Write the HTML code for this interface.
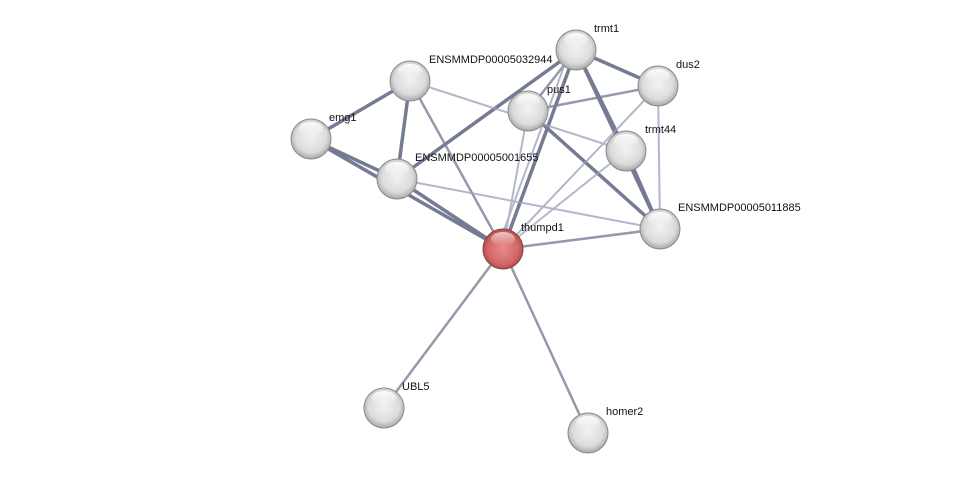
<!DOCTYPE html>
<html><head><meta charset="utf-8"><style>
html,body{margin:0;padding:0;background:#fff;}
svg{display:block;}
text{font-family:"Liberation Sans",sans-serif;font-size:11px;fill:#111;}
</style></head><body>
<svg width="975" height="478" viewBox="0 0 975 478" xmlns="http://www.w3.org/2000/svg">
<defs>
<radialGradient id="g" cx="50%" cy="45%" r="55%">
<stop offset="0" stop-color="#f2f2f2"/><stop offset="0.7" stop-color="#dcdcdc"/><stop offset="1" stop-color="#a8a8a8"/>
</radialGradient>
<radialGradient id="r" cx="50%" cy="50%" r="55%">
<stop offset="0" stop-color="#e88a8a"/><stop offset="0.7" stop-color="#d26666"/><stop offset="1" stop-color="#a84444"/>
</radialGradient>
<linearGradient id="hl" x1="0" y1="0" x2="0" y2="1">
<stop offset="0" stop-color="#fff" stop-opacity="0.9"/><stop offset="1" stop-color="#fff" stop-opacity="0"/>
</linearGradient>
</defs>
<g stroke-linecap="round">
<!-- thick dark -->
<g stroke="#5c6480" stroke-width="3.5" opacity="0.85">
<line x1="311" y1="139" x2="410" y2="81"/>
<line x1="311" y1="139" x2="397" y2="179"/>
<line x1="311" y1="139" x2="503" y2="249"/>
<line x1="410" y1="81" x2="397" y2="179"/>
<line x1="397" y1="179" x2="503" y2="249"/>
<line x1="397" y1="179" x2="576" y2="50"/>
<line x1="576" y1="50" x2="503" y2="249"/>
<line x1="576" y1="50" x2="626" y2="151"/>
<line x1="576" y1="50" x2="660" y2="229"/>
<line x1="626" y1="151" x2="660" y2="229"/>
<line x1="528" y1="111" x2="660" y2="229"/>
<line x1="576" y1="50" x2="658" y2="86"/>
</g>
<!-- medium -->
<g stroke="#7a8098" stroke-width="2.5" opacity="0.8">
<line x1="528" y1="111" x2="658" y2="86"/>
<line x1="503" y1="249" x2="660" y2="229"/>
<line x1="503" y1="249" x2="384" y2="408"/>
<line x1="503" y1="249" x2="588" y2="433"/>
<line x1="410" y1="81" x2="503" y2="249"/>
<line x1="528" y1="111" x2="576" y2="50"/>
</g>
<!-- light -->
<g stroke="#9aa0b8" stroke-width="2" opacity="0.75">
<line x1="410" y1="81" x2="626" y2="151"/>
<line x1="397" y1="179" x2="660" y2="229"/>
<line x1="658" y1="86" x2="660" y2="229"/>
<line x1="658" y1="86" x2="503" y2="249"/>
<line x1="626" y1="151" x2="503" y2="249"/>
<line x1="528" y1="111" x2="503" y2="249"/>
<line x1="576" y1="50" x2="503" y2="249" transform="translate(-6,0)"/>
</g>
</g>
<g>
<g transform="translate(311,139)"><circle r="20" fill="url(#g)" stroke="#8a8a8a" stroke-width="1"/><ellipse cx="0" cy="-10" rx="12" ry="7" fill="url(#hl)"/></g>
<g transform="translate(410,81)"><circle r="20" fill="url(#g)" stroke="#8a8a8a" stroke-width="1"/><ellipse cx="0" cy="-10" rx="12" ry="7" fill="url(#hl)"/></g>
<g transform="translate(576,50)"><circle r="20" fill="url(#g)" stroke="#8a8a8a" stroke-width="1"/><ellipse cx="0" cy="-10" rx="12" ry="7" fill="url(#hl)"/></g>
<g transform="translate(658,86)"><circle r="20" fill="url(#g)" stroke="#8a8a8a" stroke-width="1"/><ellipse cx="0" cy="-10" rx="12" ry="7" fill="url(#hl)"/></g>
<g transform="translate(528,111)"><circle r="20" fill="url(#g)" stroke="#8a8a8a" stroke-width="1"/><ellipse cx="0" cy="-10" rx="12" ry="7" fill="url(#hl)"/></g>
<g transform="translate(626,151)"><circle r="20" fill="url(#g)" stroke="#8a8a8a" stroke-width="1"/><ellipse cx="0" cy="-10" rx="12" ry="7" fill="url(#hl)"/></g>
<g transform="translate(397,179)"><circle r="20" fill="url(#g)" stroke="#8a8a8a" stroke-width="1"/><ellipse cx="0" cy="-10" rx="12" ry="7" fill="url(#hl)"/></g>
<g transform="translate(660,229)"><circle r="20" fill="url(#g)" stroke="#8a8a8a" stroke-width="1"/><ellipse cx="0" cy="-10" rx="12" ry="7" fill="url(#hl)"/></g>
<g transform="translate(503,249)"><circle r="20" fill="url(#r)" stroke="#8a4040" stroke-width="1"/><ellipse cx="0" cy="-10" rx="12" ry="7" fill="url(#hl)" opacity="0.7"/></g>
<g transform="translate(384,408)"><circle r="20" fill="url(#g)" stroke="#8a8a8a" stroke-width="1"/><ellipse cx="0" cy="-10" rx="12" ry="7" fill="url(#hl)"/></g>
<g transform="translate(588,433)"><circle r="20" fill="url(#g)" stroke="#8a8a8a" stroke-width="1"/><ellipse cx="0" cy="-10" rx="12" ry="7" fill="url(#hl)"/></g>
</g>
<g>
<text x="329" y="121">emg1</text>
<text x="429" y="63">ENSMMDP00005032944</text>
<text x="594" y="32">trmt1</text>
<text x="676" y="68">dus2</text>
<text x="547" y="93">pus1</text>
<text x="645" y="133">trmt44</text>
<text x="415" y="161">ENSMMDP00005001655</text>
<text x="678" y="211">ENSMMDP00005011885</text>
<text x="521" y="231">thumpd1</text>
<text x="402" y="390">UBL5</text>
<text x="606" y="415">homer2</text>
</g>
</svg>
</body></html>
